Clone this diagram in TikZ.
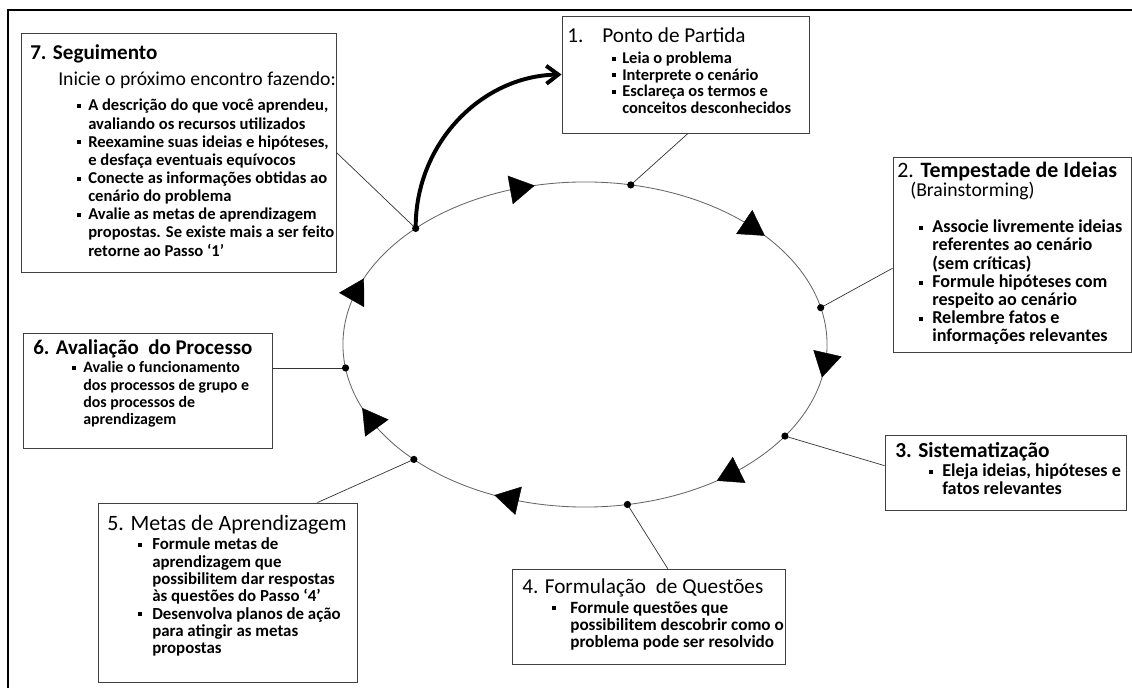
\documentclass[tikz,border=0pt]{standalone}
\usepackage{fontspec}
\setmainfont{Carlito}
\usetikzlibrary{arrows.meta,calc,fit}

\newlength{\pix}
\setlength{\pix}{0.025cm}
\newcommand{\marca}{\rule[3\pix]{4\pix}{4\pix}}
\newcommand{\lista}[2]{\begin{tabular}[t]{@{}l@{\hspace{#1\pix}}l@{}}#2\end{tabular}}

\tikzset{
  caixa/.style={draw=black!75, line width=0.6pt, inner sep=0pt},
  titulo/.style={anchor=base west, inner sep=0pt, font=\fontsize{#1}{17}\selectfont\bfseries},
  titulofino/.style={anchor=base west, inner sep=0pt, font=\fontsize{#1}{17}\selectfont},
  subtitulo/.style={anchor=base west, inner sep=0pt, font=\fontsize{14}{17}\selectfont},
  itens/.style 2 args={anchor=base west, inner sep=0pt, font=\fontsize{#1}{#2}\selectfont\bfseries},
  ligacao/.style={draw=black!80, line width=0.5pt},
  elipse/.style={draw=black!60, line width=0.6pt},
  seta/.style={draw=black, line width=0.3pt, -{Triangle[length=0.62cm, width=0.72cm]}},
}

\begin{document}
\begin{tikzpicture}[x=0.025cm, y=-0.025cm]
\useasboundingbox (0,0) rectangle (1132,688);
% moldura
\draw[line width=2pt] (8,688) -- (8,10) -- (1132,10);

% ciclo
\coordinate (c) at (585,344.5);
\draw[elipse] (c) ellipse [x radius=6.05cm, y radius=4.0625cm];
\foreach \a in {258, 318, 11.7, 57, 112, 157, 204}
  \draw[seta] ($(c)+(\a-6:242 and 162.5)$) -- ($(c)+(\a:242 and 162.5)$);
\coordinate (d1) at ($(c)+(-79.1:242 and 162.5)$);
\coordinate (d2) at ($(c)+(-13.1:242 and 162.5)$);
\coordinate (d3) at ($(c)+(34.3:242 and 162.5)$);
\coordinate (d4) at ($(c)+(79.9:242 and 162.5)$);
\coordinate (d5) at ($(c)+(135:242 and 162.5)$);
\coordinate (d6) at ($(c)+(171.7:242 and 162.5)$);
\coordinate (d7) at ($(c)+(225.6:242 and 162.5)$);

% caixas
\node[caixa, fit={(562,16) (809,133)}] (b1) {};
\node[caixa, fit={(893,157) (1131,352)}] (b2) {};
\node[caixa, fit={(885,435) (1126,510)}] (b3) {};
\node[caixa, fit={(512,569) (785,664)}] (b4) {};
\node[caixa, fit={(98,503) (357,682)}] (b5) {};
\node[caixa, fit={(23,333) (272,448)}] (b6) {};
\node[caixa, fit={(21,33) (336,272)}] (b7) {};

% 1
\node[titulofino=15.1] (t1) at (567,43) {\makebox[35\pix][l]{1.}Ponto de Partida};
\node[itens={11.7}{11.7}] (l1) at (612,64) {\lista{6}{
  \marca & Leia o problema\\
  \marca & Interprete o cenário\\
  \marca & Esclareça os termos e\\
         & conceitos desconhecidos}};
% 2
\node[titulofino=15.6] (t2) at (897,178) {2. \textbf{Tempestade de Ideias}};
\node[subtitulo] (s2) at (910,197) {(Brainstorming)};
\node[itens={12.9}{12.4}] (l2) at (919,233) {\lista{9}{
  \marca & Associe livremente ideias\\
         & referentes ao cenário\\
         & (sem críticas)\\
  \marca & Formule hipóteses com\\
         & respeito ao cenário\\
  \marca & Relembre fatos e\\
         & informações relevantes}};
% 3
\node[titulo=15.2] (t3) at (895,458) {3. Sistematização};
\node[itens={12.9}{12.05}] (l3) at (929,477) {\lista{9}{
  \marca & Eleja ideias, hipóteses e\\
         & fatos relevantes}};
% 4
\node[titulofino=15.1] (t4) at (522,593) {4. Formulação\ \ de Questões};
\node[itens={12.2}{12.4}] (l4) at (552,613) {\lista{14}{
  \marca & Formule questões que\\
         & possibilitem descobrir como o\\
         & problema pode ser resolvido}};
% 5
\node[titulofino=15.6] (t5) at (107,530) {5. Metas de Aprendizagem};
\node[itens={12}{12.2}] (l5) at (138,550) {\lista{10}{
  \marca & Formule metas de\\
         & aprendizagem que\\
         & possibilitem dar respostas\\
         & às questões do Passo ‘4’\\
  \marca & Desenvolva planos de ação\\
         & para atingir as metas\\
         & propostas}};
% 6
\node[titulo=14.9] (t6) at (33,355) {6. Avaliação\ \ do Processo};
\node[itens={11.3}{12.25}] (l6) at (72,373) {\lista{7}{
  \marca & Avalie o funcionamento\\
         & dos processos de grupo e\\
         & dos processos de\\
         & aprendizagem}};
% 7
\node[titulo=15] (t7) at (30,60) {7. Seguimento};
\node[subtitulo] (s7) at (58,86) {Inicie o próximo encontro fazendo:};
\node[itens={11.8}{12.9}] (l7) at (77,111) {\lista{7}{
  \marca & A descrição do que você aprendeu,\\
         & avaliando os recursos utilizados\\
  \marca & Reexamine suas ideias e hipóteses,\\
         & e desfaça eventuais equívocos\\
  \marca & Conecte as informações obtidas ao\\
         & cenário do problema\\
  \marca & Avalie as metas de aprendizagem\\
         & propostas. Se existe mais a ser feito\\
         & retorne ao Passo ‘1’}};

% ligacoes
\draw[ligacao] (d1) -- ($(b1.south west)!0.51!(b1.south east)$);
\draw[ligacao] (d2) -- ($(b2.north west)!0.57!(b2.south west)$);
\draw[ligacao] (d3) -- ($(b3.north west)!0.41!(b3.south west)$);
\draw[ligacao] (d4) -- ($(b4.north west)!0.57!(b4.north east)$);
\draw[ligacao] (d5) -- ($(b5.north west)!0.846!(b5.north east)$);
\draw[ligacao] (d6) -- (d6 -| b6.east);
\draw[ligacao] (d7) -- (b7.east);
\draw[line width=2.8pt, -{Straight Barb[length=0.3cm, width=0.45cm]}] (d7) .. controls (415,144) and (481,76) .. (b1.west);
\foreach \p in {d1,d2,d3,d4,d5,d6,d7}
  \fill (\p) circle (0.09cm);
\end{tikzpicture}
\end{document}
